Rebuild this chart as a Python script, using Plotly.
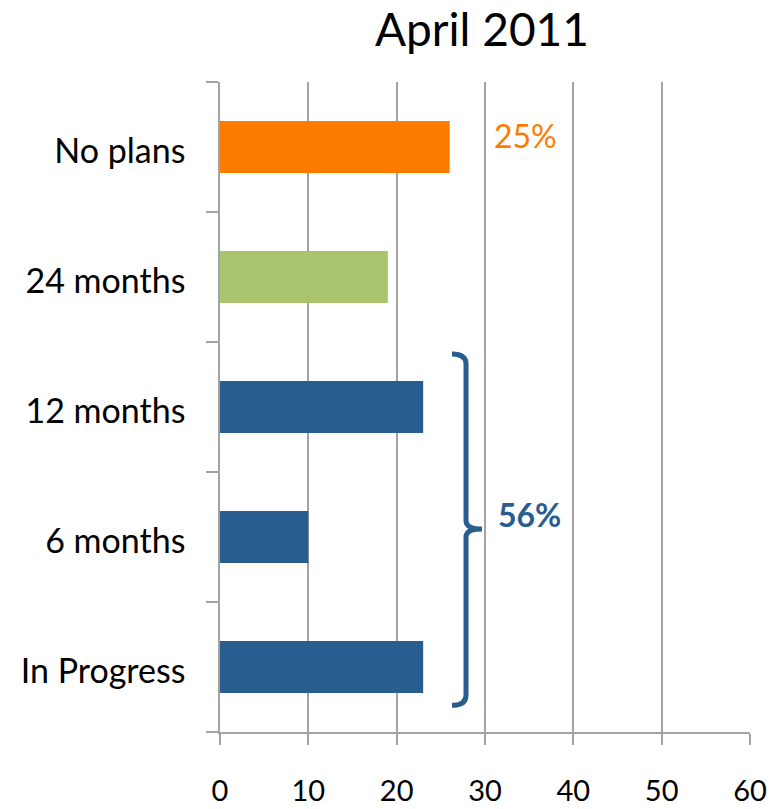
"""Horizontal bar chart: deployment plans, April 2011."""

import plotly.graph_objects as go

categories = ["In Progress", "6 months", "12 months", "24 months", "No plans"]
values = [23, 10, 23, 19, 26]
bar_colors = ["#275D8F", "#275D8F", "#275D8F", "#A9C46C", "#FD7C00"]
x_ticks = [0, 10, 20, 30, 40, 50, 60]

FONT = "Lato, Carlito, Calibri, sans-serif"
GRID = "#A3A3A3"

fig = go.Figure(
    go.Bar(
        x=values,
        y=categories,
        orientation="h",
        marker=dict(color=bar_colors, line=dict(width=0)),
        hoverinfo="x+y",
    )
)

# curly brace grouping the first three categories
brace = (
    "M 0.4377,0.5815 Q 0.4642,0.5815 0.4642,0.566 "
    "L 0.4642,0.325 Q 0.4642,0.3123 0.4943,0.3123 "
    "Q 0.4642,0.3123 0.4642,0.300 "
    "L 0.4642,0.057 Q 0.4642,0.041 0.4377,0.041"
)
fig.add_shape(type="path", path=brace, xref="paper", yref="paper",
              line=dict(color="#275D8F", width=5))

fig.add_annotation(text="25%", x=0.5755, y=0.918, xref="paper", yref="paper",
                   xanchor="center", yanchor="middle", showarrow=False,
                   font=dict(size=32, color="#FD7C00", family=FONT))
fig.add_annotation(text="<b>56%</b>", x=0.584, y=0.334, xref="paper", yref="paper",
                   xanchor="center", yanchor="middle", showarrow=False,
                   font=dict(size=32, color="#275D8F", family=FONT))

fig.update_layout(
    width=778,
    height=809,
    margin=dict(l=220, r=28, t=82, b=77, autoexpand=False),
    paper_bgcolor="white",
    plot_bgcolor="white",
    bargap=0.6,
    showlegend=False,
    font=dict(family=FONT, size=29, color="black"),
    title=dict(text="April 2011", x=482 / 778, xanchor="center",
               y=1 - 30 / 809, yanchor="middle", yref="container",
               font=dict(size=46, family=FONT, color="black")),
)
fig.update_xaxes(
    range=[0, 60],
    tickvals=x_ticks,
    tickfont=dict(size=29),
    showgrid=True,
    gridcolor=GRID,
    gridwidth=1.5,
    zeroline=False,
    showline=True,
    linecolor=GRID,
    linewidth=1.5,
    ticks="outside",
    ticklen=11,
    tickcolor=GRID,
    tickwidth=1.5,
    ticklabelstandoff=21,
    automargin=False,
    fixedrange=True,
)
fig.update_yaxes(
    categoryorder="array",
    categoryarray=categories,
    tickfont=dict(size=34),
    showgrid=False,
    showline=True,
    linecolor=GRID,
    linewidth=1.5,
    ticks="outside",
    tickson="boundaries",
    ticklen=12,
    tickcolor=GRID,
    tickwidth=1.5,
    ticklabelstandoff=26,
    ticklabelshift=4,
    automargin=False,
    fixedrange=True,
)

fig.write_html(
    "out.html",
    config={"displayModeBar": False},
    post_script="document.body.style.margin='0';document.body.style.overflow='hidden';",
)
